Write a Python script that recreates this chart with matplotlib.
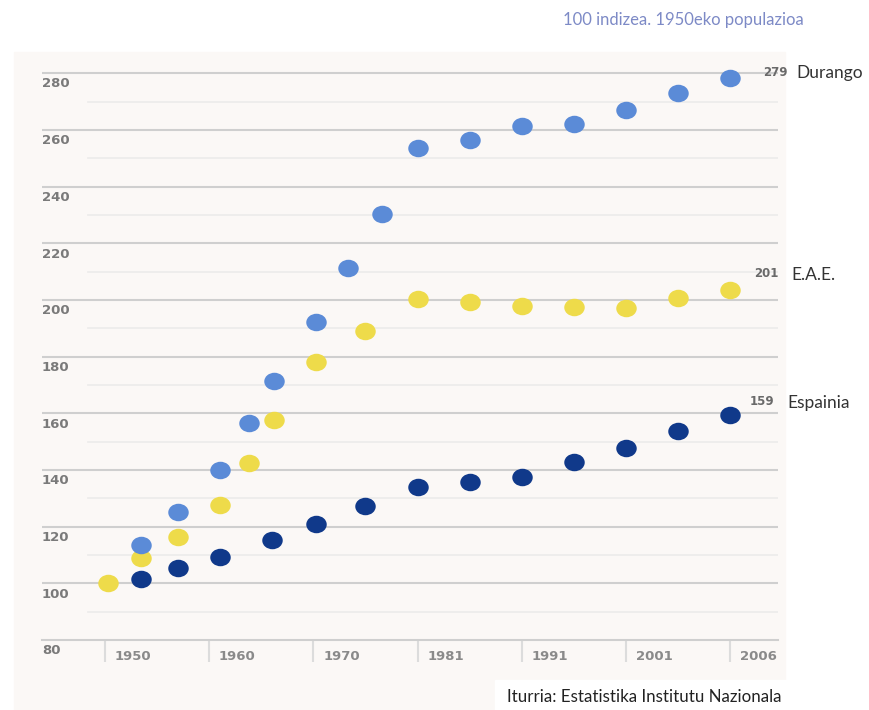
import numpy as np
import matplotlib.pyplot as plt
from matplotlib.markers import MarkerStyle
from matplotlib.patches import Rectangle
from matplotlib.transforms import Affine2D

# x axis is split in periods of equal width (not linear in time)
period_years = [1950, 1960, 1970, 1981, 1991, 2001, 2006]
period_labels = ["1950", "1960", "1970", "1981", "1991", "2001", "2006"]

y_major = [100, 120, 140, 160, 180, 200, 220, 240, 260, 280]
y_minor = [90, 110, 130, 150, 170, 190, 210, 230, 250, 270]
y_labels = [80, 100, 120, 140, 160, 180, 200, 220, 240, 260, 280]

durango_years = [1953.5, 1957, 1961, 1963.8, 1966.2, 1970.3, 1973.7, 1977.2,
                 1981, 1986, 1991, 1996, 2001, 2003.5, 2006]
durango_values = [113.5, 125.3, 140, 156.6, 171.3, 192.4, 211.4, 230.5,
                  253.5, 256.6, 261.3, 262, 266.9, 273.2, 278.5]

eae_years = [1950.3, 1953.5, 1957, 1961, 1963.8, 1966.2, 1970.3, 1975.5,
             1981, 1986, 1991, 1996, 2001, 2003.5, 2006]
eae_values = [100, 108.9, 116.5, 127.7, 142.3, 157.6, 178, 189,
              200.4, 199.2, 198, 197.4, 197.2, 200.7, 203.5]

espainia_years = [1953.5, 1957, 1961, 1966, 1970.3, 1975.5, 1981, 1986,
                  1991, 1996, 2001, 2003.5, 2006]
espainia_values = [101.5, 105.4, 109.3, 115.3, 121, 127.3, 133.9, 135.8,
                   137.5, 142.8, 147.7, 153.7, 159.3]

series_names = ["E.A.E.", "Espainia", "Durango"]
end_labels = ["201", "159", "279"]
colors = ["#eedb4a", "#10398a", "#5b8bd7"]

# piecewise mapping year -> period position, extended at both ends
anchor_years = [1900] + period_years + [2056]
anchor_pos = [-5, 0, 1, 2, 3, 4, 5, 6, 16]


def forward(x):
    return np.interp(x, anchor_years, anchor_pos)


def inverse(p):
    return np.interp(p, anchor_pos, anchor_years)


fig = plt.figure(figsize=(8.7, 7.1), dpi=100, facecolor="white")
W, H = 870, 710

# cream panel behind the chart, white box behind the source
fig.patches.append(Rectangle((14 / W, 0), (785 - 14) / W, (H - 52) / H,
                             transform=fig.transFigure, color="#fbf8f6", zorder=-10))
fig.patches.append(Rectangle((495 / W, 0), (812 - 495) / W, 30 / H,
                             transform=fig.transFigure, color="white", zorder=-9))

ax = fig.add_axes([42 / W, 70 / H, (778 - 42) / W, (640 - 45) / H])
ax.set_facecolor("none")
ax.set_xscale("function", functions=(forward, inverse))
ax.set_xlim(1943.95, 2008.3)
ax.set_ylim(80, 290)

for v in y_major:
    ax.axhline(v, xmin=0, xmax=1, color="#cfcfcf", lw=1.5, zorder=1)
for v in y_minor:
    ax.axhline(v, xmin=0.0625, xmax=1, color="#ecebea", lw=1.2, zorder=1)

for v in y_labels:
    ax.annotate(str(v), xy=(0, v), xycoords=("axes fraction", "data"),
                xytext=(0, -3), textcoords="offset points", ha="left", va="top",
                fontsize=9.5, color="#7a7a7a", fontweight="bold")

for s in ["top", "left", "right"]:
    ax.spines[s].set_visible(False)
ax.spines["bottom"].set_color("#cfcfcf")
ax.spines["bottom"].set_linewidth(1.5)
ax.set_yticks([])
ax.set_xticks(period_years)
ax.set_xticks([], minor=True)
ax.set_xticklabels([])
ax.tick_params(axis="x", length=16, width=1.5, color="#dcdcdc", direction="out")

for yr, lab in zip(period_years, period_labels):
    ax.annotate(lab, xy=(yr, 0), xycoords=("data", "axes fraction"),
                xytext=(7, -7), textcoords="offset points", ha="left", va="top",
                fontsize=9.5, color="#8a8a8a", fontweight="bold")

marker = MarkerStyle("o", transform=Affine2D().scale(1.17, 1))
all_years = [eae_years, espainia_years, durango_years]
all_values = [eae_values, espainia_values, durango_values]
value_offsets = [(17, 12), (14, 10), (24, 4)]
name_offsets = [(44, 11), (41, 8.6), (47.5, 3.6)]

for yrs, vals, col, name, lab, vo, no in zip(all_years, all_values, colors, series_names,
                                             end_labels, value_offsets, name_offsets):
    ax.plot(yrs, vals, linestyle="none", marker=marker, markersize=12.6,
            markerfacecolor=col, markeredgewidth=0, zorder=3, clip_on=False)
    ax.annotate(lab, xy=(yrs[-1], vals[-1]), xytext=vo, textcoords="offset points",
                ha="left", va="center", fontsize=8.5, color="#6a6a6a", fontweight="bold")
    ax.annotate(name, xy=(yrs[-1], vals[-1]), xytext=no, textcoords="offset points",
                ha="left", va="center", fontsize=12.5, color="#333333", family="Lato",
                annotation_clip=False)

fig.text(563 / W, 1 - 20 / H, "100 indizea. 1950eko populazioa", ha="left", va="center",
         fontsize=12, color="#7d8ac6", family="Lato")
fig.text(507 / W, 1 - 697 / H, "Iturria: Estatistika Institutu Nazionala", ha="left",
         va="center", fontsize=12.2, color="#222222", family="Lato")

fig.savefig("out.png", dpi=100, facecolor=fig.get_facecolor())
